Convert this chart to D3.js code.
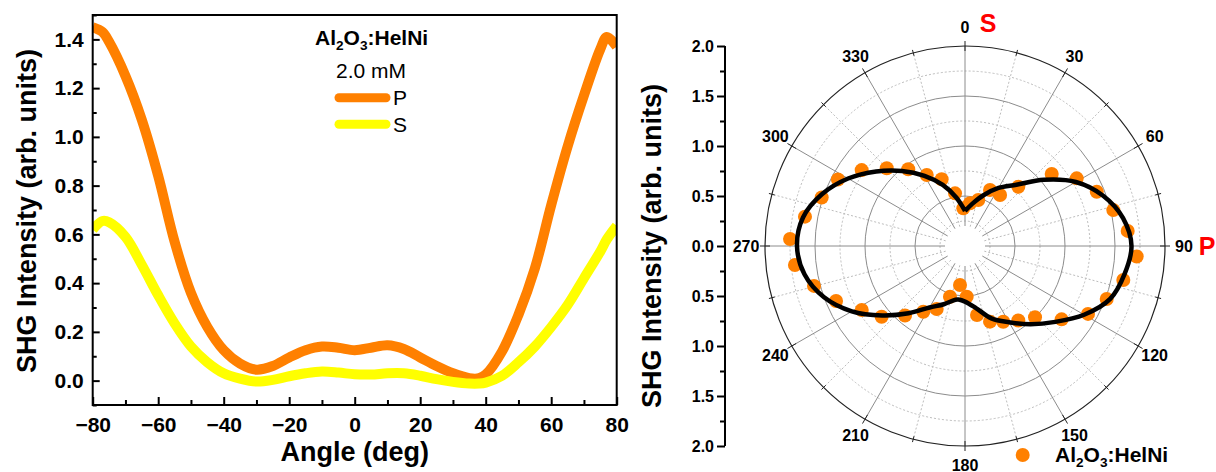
<!DOCTYPE html>
<html><head><meta charset="utf-8">
<script src="https://cdn.jsdelivr.net/npm/d3@7"></script>
<style>body{margin:0;background:#fff}svg{display:block}text{font-family:Arial,"Liberation Sans",sans-serif}</style>
</head><body>
<svg id="chart" width="1216" height="472"></svg>
<script>
// ---- Left chart data ----
const angles = [-80,-77,-75,-70,-65,-60,-55,-50,-45,-40,-35,-30,-25,-20,-15,-10,-5,0,5,10,15,20,25,30,35,38,40,45,50,55,60,65,70,75,77,80];
const pValues = [1.45,1.43,1.39,1.25,1.07,0.84,0.57,0.36,0.22,0.125,0.07,0.045,0.06,0.095,0.125,0.14,0.135,0.125,0.135,0.145,0.13,0.095,0.06,0.03,0.01,0.01,0.025,0.12,0.27,0.46,0.72,0.96,1.17,1.36,1.41,1.37];
const sValues = [0.62,0.655,0.65,0.59,0.475,0.35,0.235,0.14,0.075,0.03,0.008,-0.004,0.003,0.018,0.03,0.037,0.033,0.026,0.025,0.03,0.03,0.02,0.006,-0.005,-0.012,-0.012,-0.008,0.02,0.075,0.14,0.22,0.31,0.42,0.53,0.58,0.635];
const xTicks = [-80,-60,-40,-20,0,20,40,60,80];
const yTicks = [0.0,0.2,0.4,0.6,0.8,1.0,1.2,1.4];
const seriesNames = ["P","S"];
const seriesColors = ["#FF8000","#FFFF00"];

// ---- Polar chart data ----
const dotAngles = [357.4,6.7,16.1,24.1,34.5,42,50.3,58.8,67.6,76.4,84.7,93.5,102.1,110.5,118.9,127.2,135.5,144.4,153.2,161.7,170.1,178.1,187.3,196.5,204.2,212.4,220.8,229.7,238.2,246.9,255.2,263.6,272.3,280.4,288.7,297.6,306.3,314.8,323.5,331.7,340.7,349.3];
const dotValues = [0.377,0.43,0.479,0.613,0.619,0.797,1.127,1.306,1.425,1.526,1.634,1.72,1.619,1.513,1.405,1.213,0.999,0.916,0.848,0.797,0.70,0.507,0.393,0.529,0.691,0.778,0.918,1.093,1.215,1.402,1.562,1.711,1.751,1.627,1.513,1.434,1.282,1.103,0.954,0.807,0.707,0.536];
const fitAngles = [0,10,20,30,40,50,60,70,80,90,100,110,120,130,140,150,160,170,180,187,190,200,210,220,230,240,250,260,270,280,290,300,310,320,330,340,350,360];
const fitValues = [0.35,0.43,0.54,0.67,0.80,1.03,1.28,1.47,1.605,1.665,1.62,1.545,1.375,1.18,1.02,0.88,0.77,0.63,0.556,0.54,0.545,0.62,0.71,0.878,1.08,1.307,1.50,1.63,1.68,1.645,1.52,1.35,1.16,0.98,0.81,0.65,0.49,0.35];
const angleLabels = [0,30,60,90,120,150,180,210,240,270,300,330];
const radialTicks = [-2,-1.5,-1,-0.5,0,0.5,1,1.5,2];
const legendName = ["Al","2","O","3",":HelNi"];

const svg = d3.select("#chart");

// ================= LEFT CHART =================
const x = d3.scaleLinear().domain([-80,80]).range([92.7,616.7]);
const y = d3.scaleLinear().domain([-0.1,1.5]).range([405,15]);
const L = svg.append("g");

const lineGen = d3.line().x((d,i)=>x(angles[i])).y(d=>y(d)).curve(d3.curveCatmullRom.alpha(0.5));
svg.append("defs").append("clipPath").attr("id","lc").append("rect")
  .attr("x",x(-80)).attr("y",y(1.5)).attr("width",x(80)-x(-80)).attr("height",y(-0.1)-y(1.5));
const curves = L.append("g").attr("clip-path","url(#lc)");
[pValues,sValues].forEach((vals,k)=>{
  curves.append("path").attr("d",lineGen(vals)).attr("fill","none")
    .attr("stroke",seriesColors[k]).attr("stroke-width",10).attr("stroke-linejoin","round");
});

// axes
const xAxis = d3.axisBottom(x).tickValues(xTicks).tickSize(-8).tickPadding(12).tickFormat(d3.format("d"));
const xMinor = d3.axisBottom(x).tickValues(d3.range(-70,80,20)).tickSize(-5).tickFormat("");
L.append("g").attr("transform",`translate(0,${y(-0.1)})`).call(xAxis);
L.append("g").attr("transform",`translate(0,${y(-0.1)})`).call(xMinor);
const yAxis = d3.axisLeft(y).tickValues(yTicks).tickSize(-7).tickPadding(9).tickFormat(d3.format(".1f"));
const yMinor = d3.axisLeft(y).tickValues([-0.1,0.1,0.3,0.5,0.7,0.9,1.1,1.3,1.5]).tickSize(-4).tickFormat("");
L.append("g").attr("transform",`translate(${x(-80)},0)`).call(yAxis);
L.append("g").attr("transform",`translate(${x(-80)},0)`).call(yMinor);
L.selectAll(".domain").remove();
L.selectAll(".tick line").attr("stroke","#000").attr("stroke-width",2);
L.selectAll(".tick text").attr("font-size",21).attr("font-weight","bold").attr("fill","#000");
L.append("rect").attr("x",x(-80)).attr("y",y(1.5)).attr("width",x(80)-x(-80)).attr("height",y(-0.1)-y(1.5))
  .attr("fill","none").attr("stroke","#000").attr("stroke-width",2);

L.append("text").attr("x",(x(-80)+x(80))/2).attr("y",461).attr("text-anchor","middle")
  .attr("font-size",27).attr("font-weight","bold").text("Angle (deg)");
L.append("text").attr("transform","translate(36,211) rotate(-90)").attr("text-anchor","middle")
  .attr("font-size",27).attr("font-weight","bold").text("SHG Intensity (arb. units)");

// legend
function chem(sel, size){
  legendName.forEach((t,i)=>{
    const sub = (i===1||i===3);
    sel.append("tspan").attr("font-size",sub?size*0.65:size).attr("dy",sub?size*0.25:(i===0?0:-size*0.25)).text(t);
  });
}
const lt = L.append("text").attr("x",315).attr("y",45).attr("font-weight","bold");
chem(lt,21);
L.append("text").attr("x",336).attr("y",78).attr("font-size",21).text("2.0 mM");
seriesNames.forEach((n,k)=>{
  const ly = 97.7 + k*26.5;
  L.append("line").attr("x1",339).attr("x2",386).attr("y1",ly).attr("y2",ly)
    .attr("stroke",seriesColors[k]).attr("stroke-width",9).attr("stroke-linecap","round");
  L.append("text").attr("x",393).attr("y",ly+7.5).attr("font-size",21).text(n);
});

// ================= POLAR CHART =================
const cx = 965, cy = 246;
const r = d3.scaleLinear().domain([0,2]).range([0,200]);
const P = svg.append("g").attr("transform",`translate(${cx},${cy})`);
const rad = a => a*Math.PI/180;

[0.25,0.75,1.25,1.75].forEach(v=>{
  P.append("circle").attr("r",r(v)).attr("fill","none").attr("stroke","#bdbdbd").attr("stroke-width",1).attr("stroke-dasharray","2,2");
});
d3.range(15,360,30).forEach(a=>{
  P.append("line").attr("x1",r(0.2)*Math.sin(rad(a))).attr("y1",-r(0.2)*Math.cos(rad(a)))
    .attr("x2",r(2)*Math.sin(rad(a))).attr("y2",-r(2)*Math.cos(rad(a)))
    .attr("stroke","#bdbdbd").attr("stroke-width",1).attr("stroke-dasharray","2,2");
});
[0.5,1,1.5].forEach(v=>{
  P.append("circle").attr("r",r(v)).attr("fill","none").attr("stroke","#8c8c8c").attr("stroke-width",1);
});
d3.range(0,360,30).forEach(a=>{
  P.append("line").attr("x1",r(0.2)*Math.sin(rad(a))).attr("y1",-r(0.2)*Math.cos(rad(a)))
    .attr("x2",r(2)*Math.sin(rad(a))).attr("y2",-r(2)*Math.cos(rad(a)))
    .attr("stroke","#8c8c8c").attr("stroke-width",1);
});
P.append("circle").attr("r",r(2)).attr("fill","none").attr("stroke","#222").attr("stroke-width",1.2);
d3.range(0,360,15).forEach(a=>{
  const len = a%30===0?5:3;
  P.append("line").attr("x1",(r(2)-len)*Math.sin(rad(a))).attr("y1",-(r(2)-len)*Math.cos(rad(a)))
    .attr("x2",(r(2)+len)*Math.sin(rad(a))).attr("y2",-(r(2)+len)*Math.cos(rad(a)))
    .attr("stroke","#222").attr("stroke-width",1);
});
angleLabels.forEach(a=>{
  P.append("text").attr("x",219*Math.sin(rad(a))).attr("y",-219*Math.cos(rad(a)))
    .attr("text-anchor","middle").attr("dominant-baseline","central")
    .attr("font-size",16).attr("font-weight","bold").text(a);
});
P.append("text").attr("x",988-cx).attr("y",23-cy).attr("text-anchor","middle").attr("dominant-baseline","central")
  .attr("font-size",25).attr("font-weight","bold").attr("fill","#FF0000").text("S");
P.append("text").attr("x",1207-cx).attr("y",0).attr("text-anchor","middle").attr("dominant-baseline","central")
  .attr("font-size",25).attr("font-weight","bold").attr("fill","#FF0000").text("P");

P.selectAll("circle.dot").data(dotAngles).join("circle").attr("class","dot")
  .attr("cx",(a,i)=>r(dotValues[i])*Math.sin(rad(a)))
  .attr("cy",(a,i)=>-r(dotValues[i])*Math.cos(rad(a)))
  .attr("r",7).attr("fill","#FF8000");
const radial = d3.lineRadial().angle((d,i)=>rad(fitAngles[i])).radius(d=>r(d)).curve(d3.curveCatmullRom.alpha(0.5));
P.append("path").attr("d",radial(fitValues)).attr("fill","none").attr("stroke","#000").attr("stroke-width",4.5).attr("stroke-linejoin","round");

// polar left axis
const ry = d3.scaleLinear().domain([-2,2]).range([cy+200,cy-200]);
const ryAxis = d3.axisLeft(ry).tickValues(radialTicks).tickSize(8).tickPadding(3).tickFormat(d=>d3.format(".1f")(Math.abs(d)));
const ryMinor = d3.axisLeft(ry).tickValues(d3.range(-1.75,2,0.5)).tickSize(5).tickFormat("");
const ga = svg.append("g").attr("class","pax").attr("transform","translate(725,0)").call(ryAxis);
const gm = svg.append("g").attr("class","pax").attr("transform","translate(725,0)").call(ryMinor);
gm.select(".domain").remove();
ga.select(".domain").attr("stroke","#000").attr("stroke-width",2).attr("d",`M0,${cy-200}V${cy+200}`);
svg.selectAll(".pax .tick line").attr("stroke","#000").attr("stroke-width",2);
ga.selectAll(".tick text").attr("font-size",16).attr("font-weight","bold").attr("fill","#000");
svg.append("text").attr("transform",`translate(661,${cy}) rotate(-90)`).attr("text-anchor","middle")
  .attr("font-size",27).attr("font-weight","bold").text("SHG Intensity (arb. units)");

// polar legend
svg.append("circle").attr("cx",1022.7).attr("cy",455).attr("r",7).attr("fill","#FF8000");
const pl = svg.append("text").attr("x",1055).attr("y",462).attr("font-weight","bold");
chem(pl,21);
</script>
</body></html>
